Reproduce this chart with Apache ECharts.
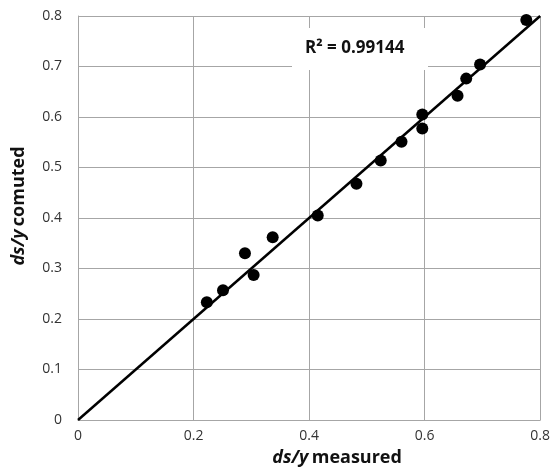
<!DOCTYPE html>
<html>
<head>
<meta charset="utf-8">
<script src="https://cdn.jsdelivr.net/npm/echarts@6/dist/echarts.min.js"></script>
<style>
  html, body { margin: 0; padding: 0; background: #fff; }
  #chart { width: 553px; height: 473px; }
</style>
</head>
<body>
<div id="chart"></div>
<script>
// measured vs computed ds/y
const measured = [0.223, 0.251, 0.289, 0.304, 0.337, 0.415, 0.482, 0.524, 0.560, 0.596, 0.596, 0.657, 0.672, 0.696, 0.776]
const computed = [0.233, 0.257, 0.330, 0.287, 0.362, 0.405, 0.468, 0.514, 0.551, 0.605, 0.577, 0.642, 0.676, 0.704, 0.792]
const trendX = [0, 0.8]
const trendY = [0, 0.8]
const r2Text = 'R² = 0.99144'

const font = "'Open Sans', 'Liberation Sans', sans-serif"
const gridColor = '#a6a6a6'

const nameRich = {
  i: { fontFamily: font, fontSize: 18, fontWeight: 'bold', fontStyle: 'italic', color: '#111' },
  b: { fontFamily: font, fontSize: 18, fontWeight: 'bold', color: '#111' }
}

const chart = echarts.init(document.getElementById('chart'))

chart.setOption({
  animation: false,
  grid: { left: 78, right: 11, top: 16, bottom: 53 },
  xAxis: {
    type: 'value', min: 0, max: 0.8, interval: 0.2,
    name: '{i|ds/y} {b|measured}',
    nameLocation: 'middle', nameGap: 29,
    nameTextStyle: { padding: [0, 0, 0, 56], rich: nameRich },
    axisLine: { lineStyle: { color: gridColor } },
    axisTick: { show: false },
    axisLabel: { color: '#333', fontFamily: font, fontSize: 14, margin: 9 },
    splitLine: { lineStyle: { color: gridColor, width: 1 } }
  },
  yAxis: {
    type: 'value', min: 0, max: 0.8, interval: 0.1,
    name: '{i|ds/y} {b|comuted}',
    nameLocation: 'middle', nameGap: 50,
    nameTextStyle: { padding: [0, 0, 0, 24], rich: nameRich },
    axisLine: { show: true, lineStyle: { color: gridColor } },
    axisTick: { show: false },
    axisLabel: { color: '#333', fontFamily: font, fontSize: 14, margin: 16 },
    splitLine: { lineStyle: { color: gridColor, width: 1 } }
  },
  series: [
    {
      name: 'trend',
      type: 'line',
      data: trendX.map((x, i) => [x, trendY[i]]),
      showSymbol: false,
      lineStyle: { color: '#000', width: 2.5 },
      z: 3
    },
    {
      name: 'points',
      type: 'scatter',
      data: measured.map((x, i) => [x, computed[i]]),
      symbolSize: 12,
      itemStyle: { color: '#000', opacity: 1 },
      z: 4
    }
  ],
  graphic: [
    {
      type: 'rect', left: 292, top: 28, z: 10,
      shape: { width: 136, height: 42 },
      style: { fill: '#fff' }
    },
    {
      type: 'text', left: 305, top: 40, z: 11,
      style: {
        text: r2Text,
        font: 'bold 17px ' + font,
        fill: '#111'
      }
    }
  ]
})
</script>
</body>
</html>
